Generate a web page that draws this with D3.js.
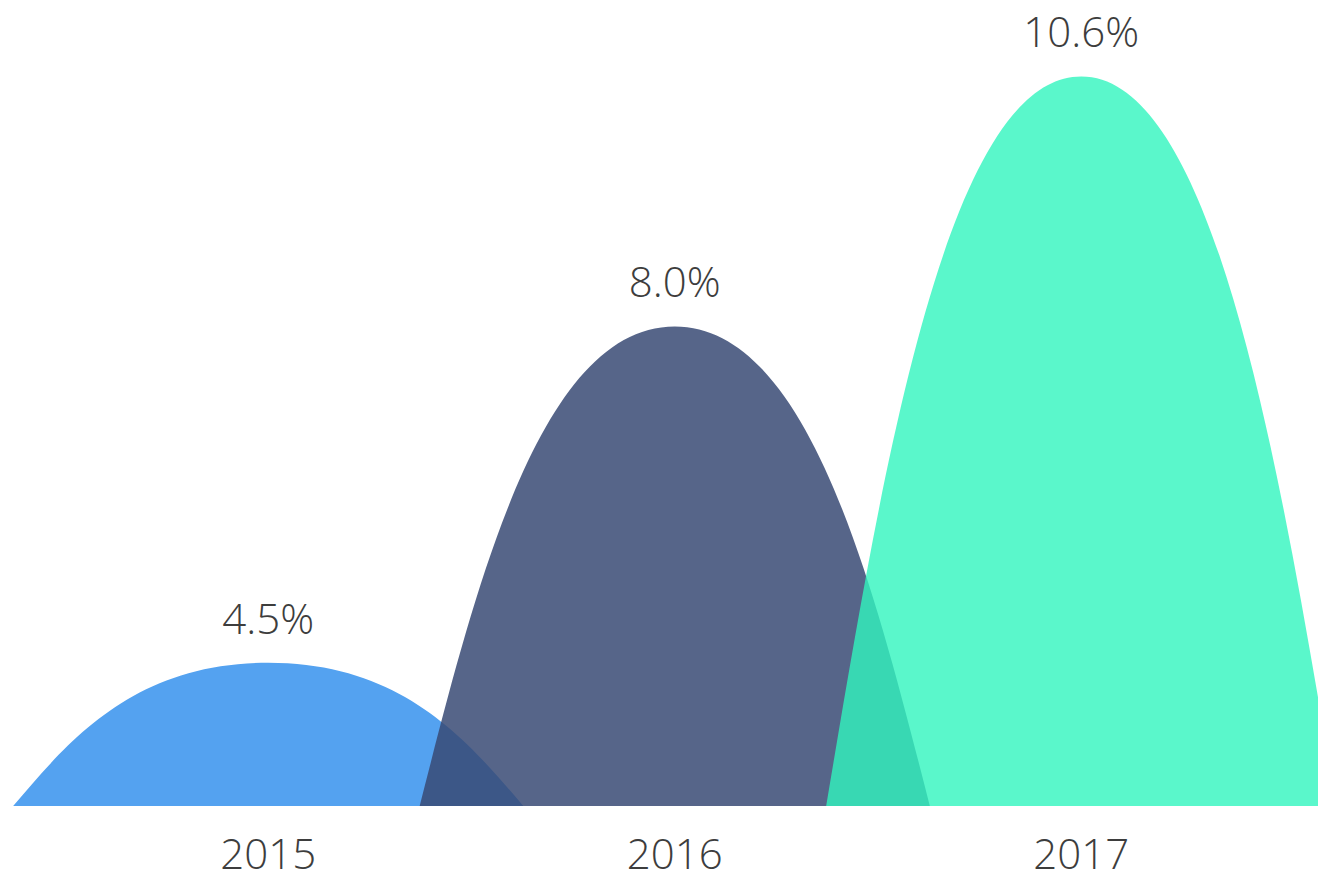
<!DOCTYPE html>
<html>
<head>
<meta charset="utf-8">
<script src="https://cdn.jsdelivr.net/npm/d3@7"></script>
<style>
  html, body { margin: 0; padding: 0; background: #fff; }
  svg { display: block; }
  text { font-family: "Segoe UI Light", "Open Sans", "Noto Sans", sans-serif; font-weight: 300; fill: #3d3d3d; }
</style>
</head>
<body>
<svg id="chart" width="1318" height="874"></svg>
<script>
// curved column chart, one hump per year
const years = ["2015", "2016", "2017"];
const values = [4.5, 8.0, 10.6];
const valueLabels = ["4.5%", "8.0%", "10.6%"];
const colors = ["#54a2f0", "#384a74", "#31f5be"];
const opacities = [1, 0.85, 0.8];

const W = 1318, H = 874;
const svg = d3.select("#chart");

const x = d3.scaleBand().domain(years).range([65, 1284.5]).padding(0);
const y = d3.scaleLinear().domain([3, 11]).range([807, 38]);

// hump is wider than the band so neighbours overlap
const halfW = x.bandwidth() * 0.6275;

function hump(d, i) {
  const cx = x(d) + x.bandwidth() / 2;
  const base = y.range()[0] - 1;
  const top = y(values[i]);
  const h = base - top;
  const a = 0.216 * halfW, b = 0.47 * halfW, fa = 0.45;
  const p = d3.path();
  p.moveTo(cx - halfW, base);
  p.bezierCurveTo(cx - halfW + a, base - fa * h, cx - halfW + b, top, cx, top);
  p.bezierCurveTo(cx + halfW - b, top, cx + halfW - a, base - fa * h, cx + halfW, base);
  p.closePath();
  return p.toString();
}

svg.append("g").selectAll("path")
  .data(years)
  .join("path")
  .attr("d", hump)
  .attr("fill", (d, i) => colors[i])
  .attr("fill-opacity", (d, i) => opacities[i]);

svg.append("g").selectAll("text")
  .data(years)
  .join("text")
  .attr("x", d => x(d) + x.bandwidth() / 2)
  .attr("y", (d, i) => y(values[i]) - 29)
  .attr("text-anchor", "middle")
  .style("font-size", "42px")
  .text((d, i) => valueLabels[i]);

svg.append("g").selectAll("text")
  .data(years)
  .join("text")
  .attr("x", d => x(d) + x.bandwidth() / 2)
  .attr("y", 869)
  .attr("text-anchor", "middle")
  .style("font-size", "42px")
  .text(d => d);
</script>
</body>
</html>
